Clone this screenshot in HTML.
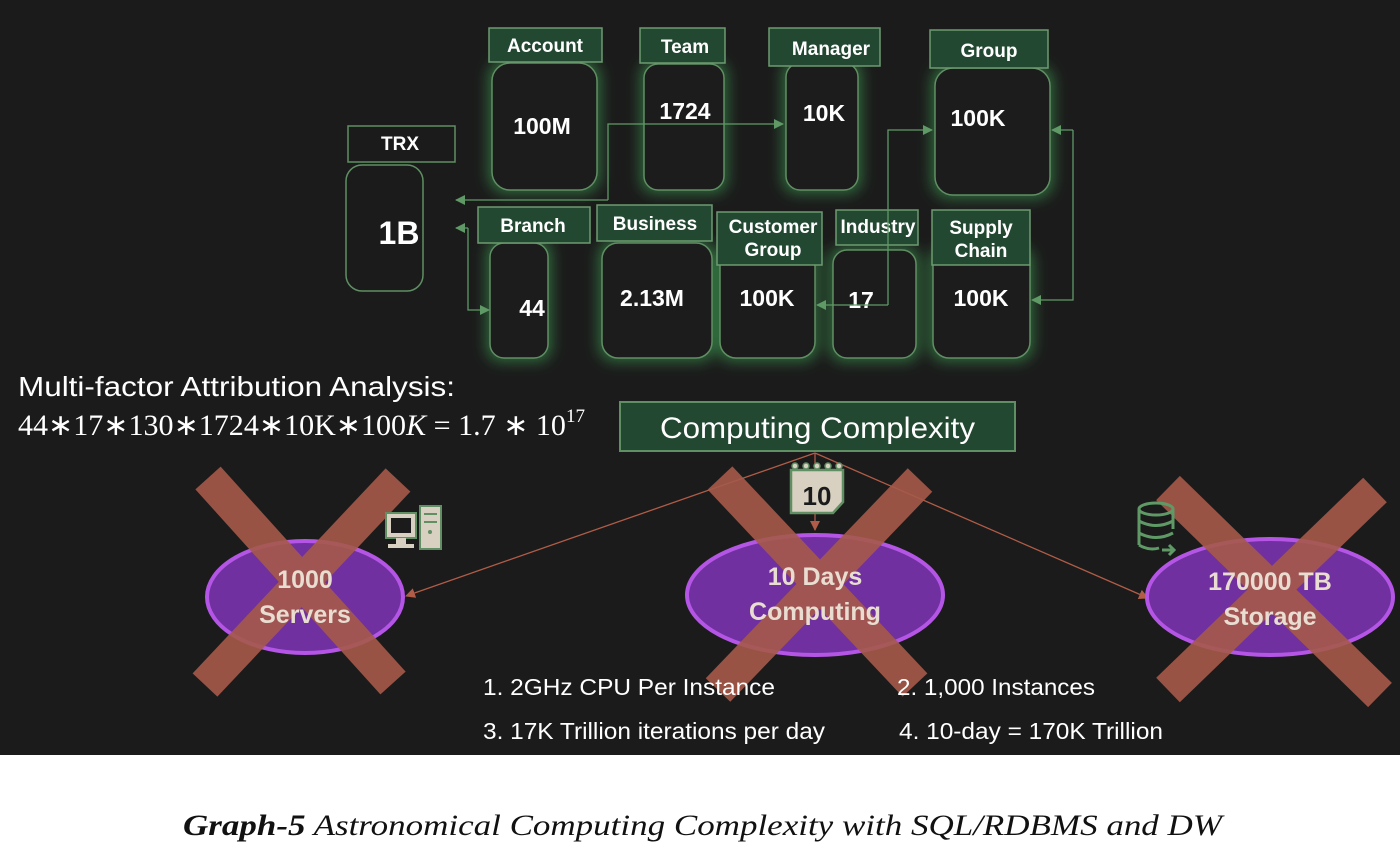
<!DOCTYPE html>
<html><head><meta charset="utf-8"><style>
html,body{margin:0;padding:0;background:#fff;}
svg{display:block;}
</style></head><body>
<svg width="1400" height="853" viewBox="0 0 1400 853" xmlns="http://www.w3.org/2000/svg">
<defs>
<filter id="glow" x="-40%" y="-40%" width="180%" height="180%">
<feMorphology in="SourceAlpha" operator="dilate" radius="3" result="d"/>
<feGaussianBlur in="d" stdDeviation="7" result="b"/>
<feFlood flood-color="#2f6a3c" flood-opacity="1"/>
<feComposite in2="b" operator="in" result="g"/>
<feMerge><feMergeNode in="g"/><feMergeNode in="SourceGraphic"/></feMerge>
</filter>
<marker id="ag" markerWidth="10" markerHeight="10" refX="9" refY="5" orient="auto" markerUnits="userSpaceOnUse"><path d="M0,0 L10,5 L0,10z" fill="#5f9a66"/></marker>
<marker id="ar" markerWidth="10" markerHeight="10" refX="9" refY="5" orient="auto" markerUnits="userSpaceOnUse"><path d="M0,0 L10,5 L0,10z" fill="#b05c48"/></marker>
</defs>
<rect x="0" y="0" width="1400" height="755" fill="#1b1b1b"/>
<rect x="0" y="755" width="1400" height="98" fill="#ffffff"/>

<g font-family="Liberation Sans, sans-serif" font-weight="bold" fill="#ffffff" text-anchor="middle">
<g filter="url(#glow)" fill="#1b1b1b" stroke="#5f8f63" stroke-width="1.5">
<rect x="492" y="63" width="105" height="127" rx="18"/>
<rect x="644" y="64" width="80" height="126" rx="14"/>
<rect x="786" y="63" width="72" height="127" rx="14"/>
<rect x="935" y="68" width="115" height="127" rx="18"/>
<rect x="490" y="243" width="58" height="115" rx="14"/>
<rect x="602" y="243" width="110" height="115" rx="16"/>
<rect x="720" y="250" width="95" height="108" rx="16"/>
<rect x="833" y="250" width="83" height="108" rx="14"/>
<rect x="933" y="250" width="97" height="108" rx="16"/>
</g>
<rect x="346" y="165" width="77" height="126" rx="16" fill="#1b1b1b" stroke="#5f8f63" stroke-width="1.5"/>
<g fill="#234832" stroke="#6c9a70" stroke-width="1.5">
<rect x="489" y="28" width="113" height="34"/>
<rect x="640" y="28" width="85" height="35"/>
<rect x="769" y="28" width="111" height="38"/>
<rect x="930" y="30" width="118" height="38"/>
<rect x="478" y="207" width="112" height="36"/>
<rect x="597" y="205" width="115" height="36"/>
<rect x="717" y="212" width="105" height="53"/>
<rect x="836" y="210" width="82" height="35"/>
<rect x="932" y="210" width="98" height="55"/>
</g>
<rect x="348" y="126" width="107" height="36" fill="#1b1b1b" stroke="#5f8f63" stroke-width="1.5"/>
<g font-size="19">
<text x="545" y="52">Account</text>
<text x="685" y="53">Team</text>
<text x="831" y="55">Manager</text>
<text x="989" y="57">Group</text>
<text x="400" y="150">TRX</text>
<text x="533" y="232">Branch</text>
<text x="655" y="230">Business</text>
<text x="773" y="233">Customer</text>
<text x="773" y="256">Group</text>
<text x="878" y="233">Industry</text>
<text x="981" y="234">Supply</text>
<text x="981" y="257">Chain</text>
</g>
<g font-size="23">
<text x="542" y="134">100M</text>
<text x="685" y="119">1724</text>
<text x="824" y="121">10K</text>
<text x="978" y="126">100K</text>
<text x="532" y="316">44</text>
<text x="652" y="306">2.13M</text>
<text x="767" y="306">100K</text>
<text x="861" y="308">17</text>
<text x="981" y="306">100K</text>
</g>
<text x="399" y="244" font-size="32">1B</text>
</g>

<g stroke="#5f9a66" stroke-width="1.3" fill="none">
<polyline points="608,200 608,124 783,124" marker-end="url(#ag)"/>
<polyline points="608,200 456,200" marker-end="url(#ag)"/>
<polyline points="468,228 468,310 489,310" marker-end="url(#ag)"/>
<polyline points="468,228 456,228" marker-end="url(#ag)"/>
<polyline points="888,305 888,130 932,130" marker-end="url(#ag)"/>
<polyline points="888,305 817,305" marker-end="url(#ag)"/>
<polyline points="1073,130 1073,300 1032,300" marker-end="url(#ag)"/>
<polyline points="1073,130 1052,130" marker-end="url(#ag)"/>
</g>

<text x="18" y="396" font-family="Liberation Sans, sans-serif" font-size="28" fill="#ffffff" textLength="437" lengthAdjust="spacingAndGlyphs">Multi-factor Attribution Analysis:</text>
<text x="18" y="435" font-family="Liberation Serif, serif" font-size="30" fill="#ffffff" textLength="567" lengthAdjust="spacingAndGlyphs">44∗17∗130∗1724∗10K∗100<tspan font-style="italic">K</tspan> = 1.7 ∗ 10<tspan font-size="19" dy="-13">17</tspan></text>

<rect x="620" y="402" width="395" height="49" fill="#234832" stroke="#5f8f63" stroke-width="2"/>
<text x="660" y="438" font-family="Liberation Sans, sans-serif" font-size="30" fill="#ffffff" textLength="315" lengthAdjust="spacingAndGlyphs">Computing Complexity</text>

<g stroke="#b05c48" stroke-width="1.3" fill="none">
<line x1="815" y1="453" x2="406" y2="596" marker-end="url(#ar)"/>
<line x1="815" y1="453" x2="815" y2="530" marker-end="url(#ar)"/>
<line x1="815" y1="453" x2="1148" y2="598" marker-end="url(#ar)"/>
</g>

<g fill="#7030a0" stroke="#b455e6" stroke-width="4">
<ellipse cx="305" cy="597" rx="98" ry="56"/>
<ellipse cx="815" cy="595" rx="128" ry="60"/>
<ellipse cx="1270" cy="597" rx="123" ry="58"/>
</g>
<g stroke="#a65a4a" stroke-width="34" opacity="0.9" stroke-linecap="butt">
<line x1="208" y1="478" x2="393" y2="683"/><line x1="398" y1="480" x2="205" y2="685"/>
<line x1="720" y1="478" x2="915" y2="685"/><line x1="920" y1="480" x2="718" y2="690"/>
<line x1="1168" y1="488" x2="1380" y2="695"/><line x1="1375" y1="490" x2="1168" y2="690"/>
</g>
<g font-family="Liberation Sans, sans-serif" font-weight="bold" font-size="25" fill="#e8ddd0" text-anchor="middle">
<text x="305" y="588">1000</text><text x="305" y="623">Servers</text>
<text x="815" y="585">10 Days</text><text x="815" y="620">Computing</text>
<text x="1270" y="590">170000 TB</text><text x="1270" y="625">Storage</text>
</g>

<g>
<rect x="386" y="513" width="30" height="25" fill="#d8d0c0" stroke="#5f8f63" stroke-width="2"/>
<rect x="391" y="518" width="20" height="15" fill="#1b1b1b"/>
<rect x="396" y="538" width="10" height="6" fill="#d8d0c0"/>
<rect x="388" y="544" width="26" height="4" fill="#d8d0c0"/>
<rect x="420" y="506" width="21" height="43" fill="#d8d0c0" stroke="#5f8f63" stroke-width="2"/>
<line x1="424" y1="514" x2="437" y2="514" stroke="#5f8f63" stroke-width="2"/>
<line x1="424" y1="522" x2="437" y2="522" stroke="#5f8f63" stroke-width="2"/>
<circle cx="430" cy="532" r="2" fill="#5f8f63"/>
</g>
<g>
<path d="M791,470 h52 v32 l-10,11 h-42z" fill="#d8d0c0" stroke="#5f8f63" stroke-width="2.5"/>
<g fill="#d8d0c0" stroke="#5f8f63" stroke-width="1.5"><circle cx="795" cy="466" r="3"/><circle cx="806" cy="466" r="3"/><circle cx="817" cy="466" r="3"/><circle cx="828" cy="466" r="3"/><circle cx="839" cy="466" r="3"/></g>
<text x="817" y="505" font-family="Liberation Sans, sans-serif" font-weight="bold" font-size="26" fill="#1b1b1b" text-anchor="middle">10</text>
</g>
<g fill="none" stroke="#5f9a66" stroke-width="3">
<ellipse cx="1156" cy="509" rx="17" ry="6"/>
<path d="M1139,509 v36 M1173,509 v20"/>
<path d="M1139,521 q17,9 34,0 M1139,533 q17,9 34,0 M1139,545 q10,6 20,3"/>
<path d="M1162,550 h12 M1169,545 l5,5 l-5,5"/>
</g>

<g font-family="Liberation Sans, sans-serif" font-size="23" fill="#ffffff">
<text x="483" y="695" textLength="292" lengthAdjust="spacingAndGlyphs">1. 2GHz CPU Per Instance</text>
<text x="897" y="695" textLength="198" lengthAdjust="spacingAndGlyphs">2. 1,000 Instances</text>
<text x="483" y="739" textLength="342" lengthAdjust="spacingAndGlyphs">3. 17K Trillion iterations per day</text>
<text x="899" y="739" textLength="264" lengthAdjust="spacingAndGlyphs">4. 10-day = 170K Trillion</text>
</g>

<text x="183" y="835" font-family="Liberation Serif, serif" font-style="italic" font-size="30" fill="#111" textLength="1039" lengthAdjust="spacingAndGlyphs"><tspan font-weight="bold">Graph-5</tspan> Astronomical Computing Complexity with SQL/RDBMS and DW</text>
</svg>
</body></html>
